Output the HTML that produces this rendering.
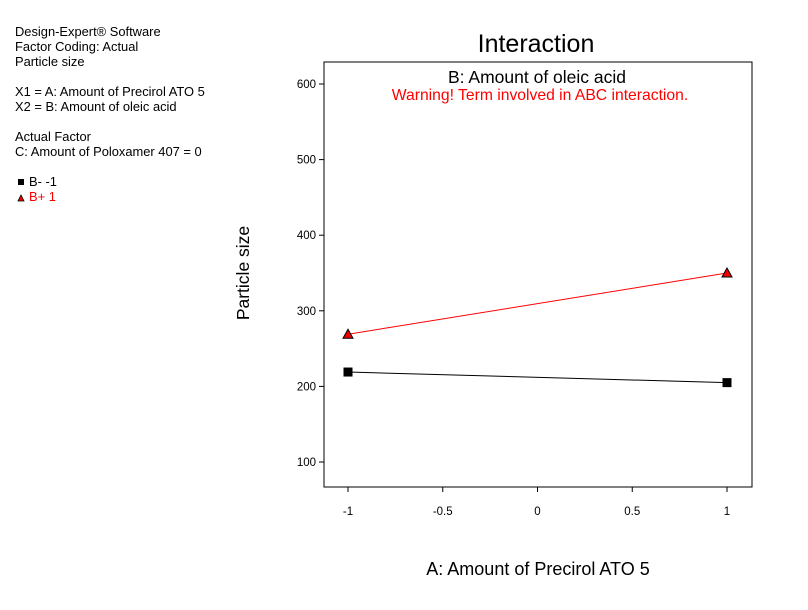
<!DOCTYPE html>
<html><head><meta charset="utf-8"><style>
body{margin:0;background:#fff;}
svg text{font-family:"Liberation Sans",Arial,sans-serif;}
</style></head><body>
<svg id="c" width="808" height="605">
<g font-size="12.9" fill="#000">
<text x="15" y="36">Design-Expert® Software</text>
<text x="15" y="51">Factor Coding: Actual</text>
<text x="15" y="66">Particle size</text>
<text x="15" y="96">X1 = A: Amount of Precirol ATO 5</text>
<text x="15" y="111">X2 = B: Amount of oleic acid</text>
<text x="15" y="141">Actual Factor</text>
<text x="15" y="156">C: Amount of Poloxamer 407 = 0</text>
</g>
<g>
<g><rect x="18" y="179" width="6" height="6" fill="#000"/><text x="29" y="186" font-size="12.9">B- -1</text></g>
<g><polygon points="18,201 24,201 21,195" fill="#e00" stroke="#000" stroke-width="0.8"/><text x="29" y="201" font-size="12.9" fill="#f00">B+ 1</text></g>
</g>
<text x="536" y="52" font-size="25" text-anchor="middle">Interaction</text>
<rect x="324" y="62" width="428" height="425" fill="none" stroke="#000" stroke-width="1"/>
<text x="537" y="83" font-size="17.5" text-anchor="middle">B: Amount of oleic acid</text>
<text x="540" y="100" font-size="15.7" fill="#f00" text-anchor="middle">Warning! Term involved in ABC interaction.</text>
<text transform="translate(249,273) rotate(-90)" font-size="17.5" text-anchor="middle">Particle size</text>
<text x="538" y="575" font-size="18" text-anchor="middle">A: Amount of Precirol ATO 5</text>
<g id="axes"></g><g id="series"></g>
</svg>
<script>
const xTicks=[-1,-0.5,0,0.5,1];
const xTickLabels=["-1","-0.5","0","0.5","1"];
const yTicks=[100,200,300,400,500,600];
const xValues=[-1,1];
const bMinus=[219,205];
const bPlus=[269,350];
const NS="http://www.w3.org/2000/svg";
function X(v){return 348+(v+1)/2*379;}
function Y(v){return 462-(v-100)*0.756;}
function mk(t,a,p){const e=document.createElementNS(NS,t);for(const k in a)e.setAttribute(k,a[k]);p.appendChild(e);return e;}
const ax=document.getElementById('axes');
xTicks.forEach((t,i)=>{
 const l=mk('line',{x1:X(t),x2:X(t),y1:487,y2:492,stroke:'#000'},ax);
 
 
 const tx=mk('text',{x:X(t),y:515,'font-size':11.5,'text-anchor':'middle'},ax);tx.textContent=xTickLabels[i];
 
 
});
yTicks.forEach(t=>{
 const l=mk('line',{x1:319,x2:324,y1:Y(t),y2:Y(t),stroke:'#000'},ax);
 
 
 const tx=mk('text',{x:316,y:Y(t)+4,'font-size':11.5,'text-anchor':'end'},ax);tx.textContent=t;
 
 
});
const sg=document.getElementById('series');
function series(vals,color,name,tri){
 const pl=mk('polyline',{points:vals.map((v,i)=>X(xValues[i])+','+Y(v)).join(' '),fill:'none',stroke:color,'stroke-width':1},sg);
 
 
 vals.forEach((v,i)=>{
  const x=X(xValues[i]),y=Y(v);let m;
  if(tri)m=mk('polygon',{points:`${x-5},${y+4} ${x+5},${y+4} ${x},${y-5}`,fill:'#e00',stroke:'#000','stroke-width':1},sg);
  else m=mk('rect',{x:x-4.5,y:y-4.5,width:9,height:9,fill:'#000'},sg);
  
  
 });
}
series(bMinus,'#000','b-minus',false);
series(bPlus,'#f00','b-plus',true);
</script>
</body></html>
